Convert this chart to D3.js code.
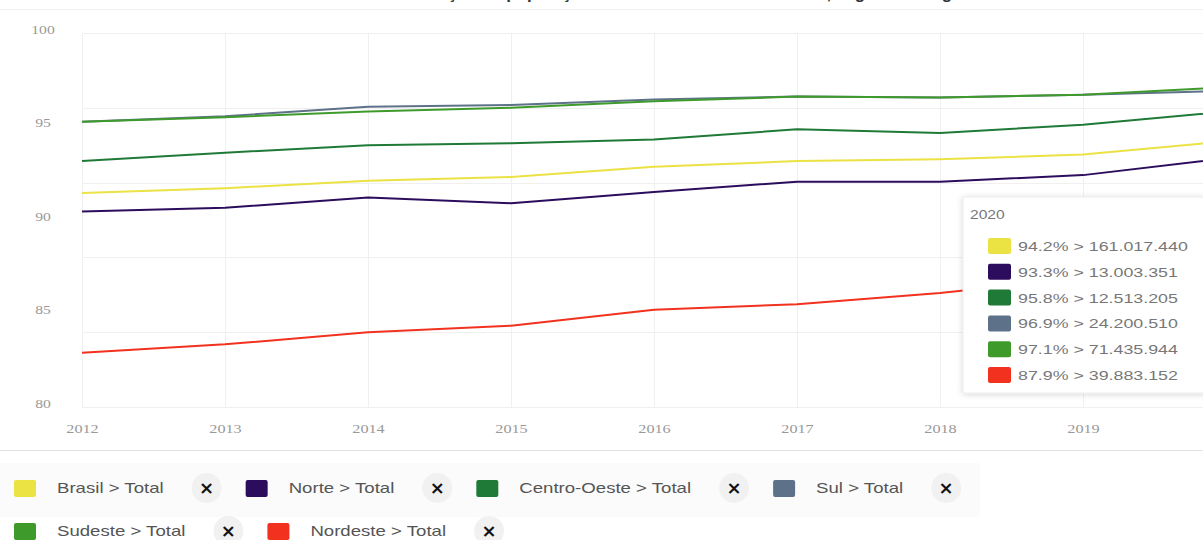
<!DOCTYPE html>
<html>
<head>
<meta charset="utf-8">
<script src="https://cdn.jsdelivr.net/npm/d3@7"></script>
<style>
  body { margin: 0; background: #fff; }
  svg { display: block; }
  .grid line { stroke: #f0f0f0; stroke-width: 1; }
  .tick-label { fill: #999; font-family: "Liberation Serif", serif; font-size: 12px; }
  .legend-text { fill: #555; font-family: "Liberation Sans", Arial, sans-serif; font-size: 15px; }
  .tip-text { fill: #777; font-family: "Liberation Sans", Arial, sans-serif; font-size: 13px; }
</style>
</head>
<body>
<svg id="chart" width="1203" height="540"></svg>
<script>
// data
const years = [2012, 2013, 2014, 2015, 2016, 2017, 2018, 2019, 2020];
const seriesNames = ["Brasil > Total", "Norte > Total", "Centro-Oeste > Total", "Sul > Total", "Sudeste > Total", "Nordeste > Total"];
const seriesColors = ["#ebe244", "#2c0c5c", "#1f7a38", "#5d7289", "#3f9a2c", "#f2311f"];
const brasil      = [91.45, 91.7, 92.1, 92.3, 92.85, 93.15, 93.25, 93.5, 94.2];
const norte       = [90.45, 90.65, 91.2, 90.9, 91.5, 92.05, 92.05, 92.4, 93.3];
const centroOeste = [93.15, 93.6, 94.0, 94.1, 94.3, 94.85, 94.65, 95.1, 95.8];
const sul         = [95.25, 95.55, 96.05, 96.15, 96.45, 96.6, 96.55, 96.7, 96.9];
const sudeste     = [95.25, 95.5, 95.8, 96.0, 96.35, 96.6, 96.55, 96.7, 97.1];
const nordeste    = [82.9, 83.35, 84.0, 84.35, 85.2, 85.5, 86.1, 86.9, 87.9];
const counts2020  = ["161.017.440", "13.003.351", "12.513.205", "24.200.510", "71.435.944", "39.883.152"];
const yTickLabels = [80, 85, 90, 95, 100];
const yGridValues = [80, 84, 88, 92, 96, 100];
const tooltipYear = 2020;
const titleText = "Taxa de alfabetização da população de 15 anos ou mais de idade, segundo a região";

const seriesValues = [brasil, norte, centroOeste, sul, sudeste, nordeste];

const svg = d3.select("#chart");

// stretch text horizontally, the screenshot is a bit wide
function stretch(sel, k) {
    sel.each(function() {
        const w = this.getComputedTextLength();
        d3.select(this).attr("textLength", w * k).attr("lengthAdjust", "spacingAndGlyphs");
    });
}

// title, mostly cut off at the top
svg.append("text")
    .attr("x", 640).attr("y", -1)
    .attr("text-anchor", "middle")
    .attr("font-family", "Liberation Sans, Arial, sans-serif")
    .attr("font-size", 17).attr("font-weight", "bold")
    .attr("fill", "#333")
    .text(titleText);
svg.append("line").attr("x1", 0).attr("x2", 1203).attr("y1", 9.5).attr("y2", 9.5)
    .attr("stroke", "#f0f0f0");

const x = d3.scaleLinear().domain([2012, 2020]).range([82, 1226]);
const y = d3.scaleLinear().domain([80, 100]).range([407, 33]);

// grid
const grid = svg.append("g").attr("class", "grid");
grid.selectAll(".h").data(yGridValues).join("line")
    .attr("x1", x(2012)).attr("x2", 1203)
    .attr("y1", d => Math.round(y(d)) + 0.5).attr("y2", d => Math.round(y(d)) + 0.5);
grid.selectAll(".v").data(years).join("line")
    .attr("x1", d => Math.round(x(d)) + 0.5).attr("x2", d => Math.round(x(d)) + 0.5)
    .attr("y1", y(100)).attr("y2", y(80));

// axes
const yAxis = svg.append("g")
    .call(d3.axisLeft(y).tickValues(yTickLabels).tickSize(0).tickFormat(d3.format("d")));
yAxis.select(".domain").remove();
yAxis.selectAll("text").attr("class", "tick-label")
    .attr("x", 43).attr("dy", "0.2em").attr("text-anchor", "middle")
    .attr("transform", "translate(0,-2)");
stretch(yAxis.selectAll("text"), 1.3);

const xAxis = svg.append("g").attr("transform", "translate(0,407)")
    .call(d3.axisBottom(x).tickValues(years).tickSize(0).tickFormat(d3.format("d")));
xAxis.select(".domain").remove();
xAxis.selectAll("text").attr("class", "tick-label").attr("y", 17);
stretch(xAxis.selectAll("text"), 1.35);

// lines
const line = d3.line()
    .x((d, i) => x(years[i]))
    .y(d => y(d));

svg.append("g").selectAll("path").data(seriesValues).join("path")
    .attr("d", d => line(d))
    .attr("fill", "none")
    .attr("stroke", (d, i) => seriesColors[i])
    .attr("stroke-width", 2)
    .attr("stroke-linejoin", "round");

// tooltip box for 2020
const defs = svg.append("defs");
const f = defs.append("filter").attr("id", "shadow").attr("x", "-20%").attr("y", "-20%").attr("width", "140%").attr("height", "140%");
f.append("feDropShadow").attr("dx", 0).attr("dy", 1).attr("stdDeviation", 3).attr("flood-color", "#000").attr("flood-opacity", 0.15);

const tip = svg.append("g").attr("transform", "translate(963,197)");
tip.append("rect")
    .attr("width", 260).attr("height", 196)
    .attr("fill", "#fff").attr("stroke", "#ececec")
    .attr("filter", "url(#shadow)");
const tipHead = tip.append("text").attr("class", "tip-text")
    .attr("x", 7).attr("y", 22).text(tooltipYear);
stretch(tipHead, 1.2);
const idx2020 = years.indexOf(tooltipYear);
const tipRows = tip.selectAll(".row").data(seriesNames).join("g")
    .attr("transform", (d, i) => `translate(25,${41 + i * 25.8})`);
tipRows.append("rect")
    .attr("width", 23).attr("height", 16).attr("rx", 2)
    .attr("fill", (d, i) => seriesColors[i]);
const tipTexts = tipRows.append("text").attr("class", "tip-text")
    .attr("x", 30).attr("y", 13)
    .text((d, i) => seriesValues[i][idx2020].toFixed(1) + "% > " + counts2020[i]);
stretch(tipTexts, 1.37);

// bottom legend
svg.append("line").attr("x1", 0).attr("x2", 1203).attr("y1", 450.5).attr("y2", 450.5)
    .attr("stroke", "#e2e2e2");
svg.append("rect").attr("x", 0).attr("y", 463).attr("width", 980).attr("height", 54)
    .attr("fill", "#fbfbfb");

const rows = [[0, 1, 2, 3], [4, 5]];
const rowY = [488, 531];
rows.forEach((row, r) => {
    let sx = 14;
    row.forEach(i => {
        const g = svg.append("g");
        g.append("rect")
            .attr("x", sx).attr("y", rowY[r] - 8)
            .attr("width", 22).attr("height", 17).attr("rx", 2)
            .attr("fill", seriesColors[i]);
        const t = g.append("text").attr("class", "legend-text")
            .attr("x", sx + 43).attr("y", rowY[r] + 5)
            .text(seriesNames[i]);
        const w = t.node().getComputedTextLength() * 1.24;
        t.attr("textLength", w).attr("lengthAdjust", "spacingAndGlyphs");
        const cx = sx + 43 + w + 43;
        g.append("circle").attr("cx", cx).attr("cy", rowY[r]).attr("r", 15)
            .attr("fill", "#f1f1f1");
        g.append("text")
            .attr("x", cx).attr("y", rowY[r] + 6)
            .attr("text-anchor", "middle")
            .attr("font-family", "DejaVu Sans, sans-serif")
            .attr("font-size", 18).attr("font-weight", "bold")
            .attr("fill", "#111")
            .text("\u00d7");
        sx = cx + 39;
    });
});
</script>
</body>
</html>
